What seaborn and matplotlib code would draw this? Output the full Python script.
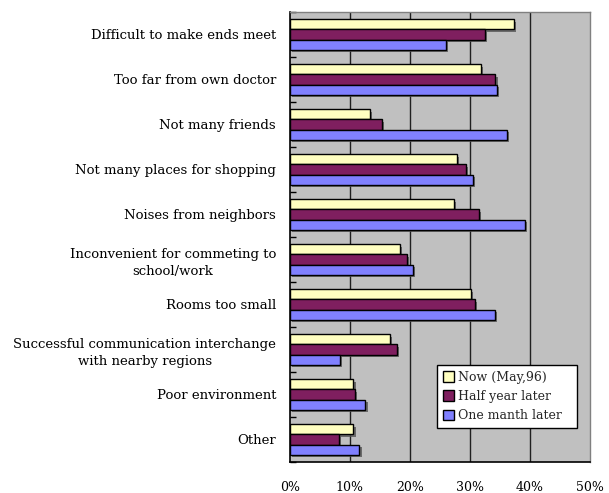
import matplotlib
matplotlib.use("Agg")
import matplotlib.pyplot as plt
import matplotlib.patheffects as pe
from matplotlib.patches import Patch
from matplotlib.ticker import FixedLocator, FuncFormatter
import numpy as np
import pandas as pd
import seaborn as sns

categories = [
    "Difficult to make ends meet",
    "Too far from own doctor",
    "Not many friends",
    "Not many places for shopping",
    "Noises from neighbors",
    "Inconvenient for commeting to\nschool/work",
    "Rooms too small",
    "Successful communication interchange\nwith nearby regions",
    "Poor environment",
    "Other",
]
series_names = ["Now (May,96)", "Half year later", "One manth later"]
now_vals = [37.4, 31.9, 13.4, 27.9, 27.4, 18.4, 30.2, 16.7, 10.6, 10.6]
half_year_vals = [32.6, 34.3, 15.3, 29.3, 31.6, 19.6, 30.9, 17.9, 10.8, 8.1]
one_month_vals = [26.1, 34.6, 36.2, 30.6, 39.3, 20.6, 34.2, 8.4, 12.6, 11.6]
x_ticks = [0, 10, 20, 30, 40, 50]
colors = ["#FFFFC0", "#7F1F5F", "#8080FF"]

df = pd.DataFrame({
    "category": categories * 3,
    "series": np.repeat(series_names, len(categories)),
    "value": now_vals + half_year_vals + one_month_vals,
})

sns.set_theme(style="white")
plt.rcParams["font.family"] = ["DejaVu Serif", "Liberation Serif"]

fig = plt.figure(figsize=(6.09, 4.93), dpi=100)
ax_left, ax_right, ax_top, ax_bottom = 290, 589.5, 12, 462
ax = fig.add_axes([ax_left / 609, 1 - ax_bottom / 493,
                   (ax_right - ax_left) / 609, (ax_bottom - ax_top) / 493])
ax.set_facecolor("#C0C0C0")

sns.barplot(
    data=df, y="category", x="value", hue="series",
    order=categories, hue_order=series_names, palette=colors,
    orient="h", width=0.67, edgecolor="black", linewidth=1.0,
    saturation=1, legend=False, ax=ax,
)

shadow = [pe.SimplePatchShadow(offset=(1.5, -1.5), shadow_rgbFace="#555555", alpha=0.8), pe.Normal()]
for bar in ax.patches:
    bar.set_path_effects(shadow)

ax.set_xlim(0, 50)
ax.set_ylim(len(categories) - 0.5, -0.5)
ax.set_xticks(x_ticks)
ax.xaxis.set_major_formatter(FuncFormatter(lambda v, _: f"{int(v)}%"))
for v in x_ticks[1:-1]:
    ax.axvline(v, color="#202020", linewidth=1.0, zorder=0.5)

ax.set_xlabel("")
ax.set_ylabel("")
ax.tick_params(axis="x", length=0, pad=14, labelsize=9, colors="black")
ax.tick_params(axis="y", which="major", length=0, pad=10, labelsize=9.5, colors="black")
for lbl in ax.get_yticklabels():
    lbl.set_multialignment("center")
    lbl.set_linespacing(1.45)
    lbl.set_fontweight("light")

ax.yaxis.set_minor_locator(FixedLocator(np.arange(-0.5, len(categories), 1.0)))
ax.tick_params(axis="y", which="minor", direction="in", length=4, width=1, color="black", left=True)

ax.spines["left"].set_color("black")
ax.spines["bottom"].set_color("black")
ax.spines["left"].set_linewidth(1.2)
ax.spines["bottom"].set_linewidth(1.2)
ax.spines["top"].set_color("#808080")
ax.spines["right"].set_color("#808080")
ax.spines["top"].set_linewidth(1.0)
ax.spines["right"].set_linewidth(1.0)

# legend box in axes fraction: left, bottom, width, height
ax_w, ax_h = ax_right - ax_left, ax_bottom - ax_top
leg_box = ((437 - ax_left) / ax_w, (ax_bottom - 432) / ax_h,
           (577 - 437) / ax_w, (432 - 365) / ax_h)
handles = [Patch(facecolor=c, edgecolor="black", linewidth=1.0) for c in colors]
leg = ax.legend(
    handles, series_names, loc="upper left", bbox_to_anchor=leg_box,
    mode="expand", frameon=True, fancybox=False, framealpha=1,
    edgecolor="black", facecolor="white", fontsize=9,
    handlelength=0.9, handleheight=0.9, handletextpad=0.3,
    borderpad=0.45, labelspacing=0.5, borderaxespad=0,
)
leg.get_frame().set_linewidth(1.0)

fig.savefig("out.png", dpi=100, facecolor="white")
